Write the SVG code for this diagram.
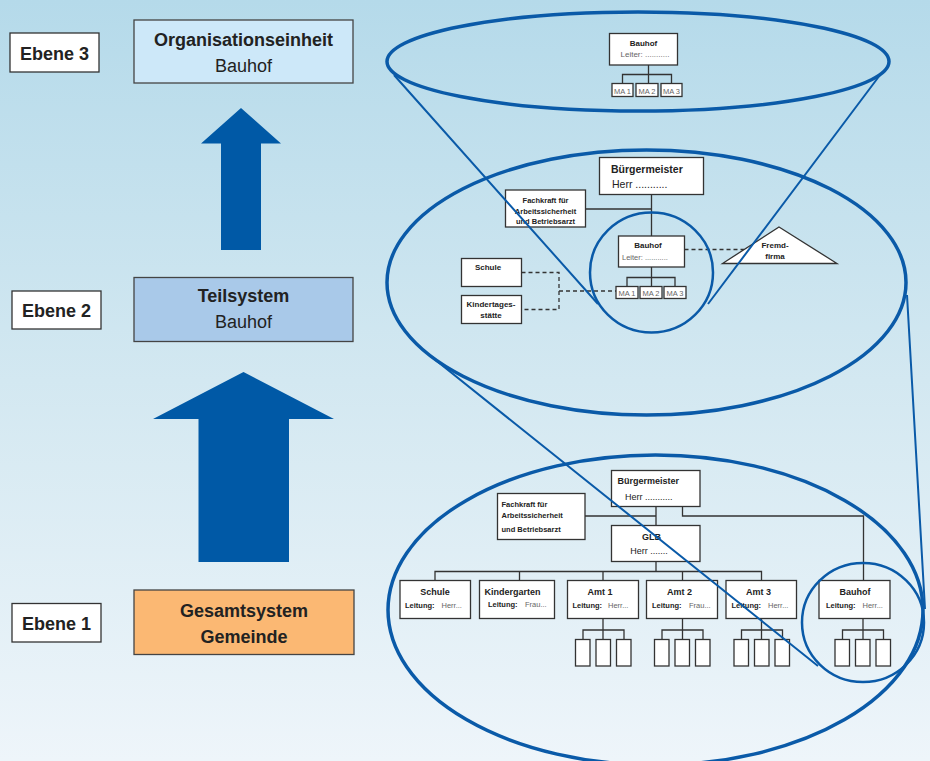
<svg xmlns="http://www.w3.org/2000/svg" width="930" height="761" viewBox="0 0 930 761">
<defs>
<linearGradient id="bg" x1="0" y1="0" x2="0" y2="1">
<stop offset="0" stop-color="#b5daea"/>
<stop offset="0.5" stop-color="#d3e8f1"/>
<stop offset="1" stop-color="#eef5fa"/>
</linearGradient>
</defs>
<style>
text{font-family:"Liberation Sans",Arial,sans-serif;fill:#222}
.b{font-weight:bold}
.c{text-anchor:middle}
.g{fill:#666}
.t18{font-size:18px}
.lbl{fill:#fff;stroke:#333;stroke-width:1.3}
.box{fill:#fff;stroke:#333;stroke-width:1.3}
.ln{fill:none;stroke:#333;stroke-width:1.3}
.dash{fill:none;stroke:#333;stroke-width:1.3;stroke-dasharray:4 3}
.arrow{fill:#0059a6}
.ring{fill:none;stroke:#0a5aa8}
.proj{fill:none;stroke:#0a5aa8;stroke-width:2}
.s7{font-size:7.5px}
.s8{font-size:8px}
.s9{font-size:9px}
.s10{font-size:10.5px}
</style>
<rect x="0" y="0" width="930" height="761" fill="url(#bg)"/>

<!-- left levels -->
<g id="ebene3"><rect class="lbl" x="10" y="33" width="89" height="39"/><text class="b c t18" x="54.5" y="59.5">Ebene 3</text></g>
<g id="ebene2"><rect class="lbl" x="12" y="291" width="89" height="38"/><text class="b c t18" x="56.5" y="316.5">Ebene 2</text></g>
<g id="ebene1"><rect class="lbl" x="12" y="603.5" width="89" height="38.5"/><text class="b c t18" x="56.5" y="629.5">Ebene 1</text></g>

<g id="organisationseinheit"><rect x="134" y="20" width="219" height="63" fill="#cde8f9" stroke="#444" stroke-width="1.3"/>
<text class="b c t18" x="243.5" y="45.5">Organisationseinheit</text><text class="c t18" x="243.5" y="72">Bauhof</text></g>
<g id="teilsystem"><rect x="134" y="277.5" width="219" height="64" fill="#a9c9e9" stroke="#444" stroke-width="1.3"/>
<text class="b c t18" x="243.5" y="302">Teilsystem</text><text class="c t18" x="243.5" y="328">Bauhof</text></g>
<g id="gesamtsystem"><rect x="134" y="590" width="220" height="64.5" fill="#fbb873" stroke="#444" stroke-width="1.3"/>
<text class="b c t18" x="244" y="616.5">Gesamtsystem</text><text class="b c t18" x="244" y="642.5">Gemeinde</text></g>

<g id="arrow-up-small"><polygon class="arrow" points="241,108 281,143.5 261,143.5 261,250 221,250 221,143.5 201,143.5"/></g>
<g id="arrow-up-big"><polygon class="arrow" points="243.5,372 334,419 289,419 289,562 198.5,562 198.5,419 153,419"/></g>

<!-- connectors -->
<g id="connectors">
<!-- top -->
<path class="ln" d="M648.5 65 V83.5 M622.5 83.5 V74.5 H671.5 V83.5"/>
<!-- middle -->
<path class="ln" d="M651.5 194.5 V236 M585.5 209 H651.5 M651.5 267 V286.5 M627 286.5 V277.5 H675 V286.5"/>
<path class="dash" d="M521.5 272.5 H559 V309.5 H521.5 M559 291 H616 M684.5 249.5 H744"/>
<!-- bottom -->
<path class="ln" d="M656 506.5 V525.5 M585 516 H656 M682.5 506.5 V516 H863.5 V580.5 M656 561.5 V571.5 M435 580.5 V571.5 H761.5 V580.5 M519.5 571.5 V580.5 M603 571.5 V580.5 M682.5 571.5 V580.5"/>
<path class="ln" d="M603 618.5 V630 M583 639.5 V630 H624 V639.5 M603 630 V639.5"/>
<path class="ln" d="M682.5 618.5 V639.5 M662 639.5 V630 H703 V639.5"/>
<path class="ln" d="M761.5 618.5 V639.5 M741.5 639.5 V630 H782.5 V639.5"/>
<path class="ln" d="M863 618.5 V639.5 M842.5 639.5 V630 H883.5 V639.5"/>
</g>

<!-- top ellipse content -->
<g id="top-bauhof"><rect class="box" x="609.5" y="33.5" width="68" height="31.5"/>
<text class="b c s8" x="643.5" y="46">Bauhof</text><text class="g s8" x="620.5" y="57">Leiter:  ...........</text></g>
<g id="top-ma1"><rect class="box" x="612" y="83.5" width="21" height="13"/><text class="g c s7" x="622.5" y="93.5">MA 1</text></g>
<g id="top-ma2"><rect class="box" x="636" y="83.5" width="22" height="13"/><text class="g c s7" x="647" y="93.5">MA 2</text></g>
<g id="top-ma3"><rect class="box" x="661" y="83.5" width="21" height="13"/><text class="g c s7" x="671.5" y="93.5">MA 3</text></g>

<!-- middle ellipse content -->
<g id="mid-buergermeister"><rect class="box" x="599.5" y="157.5" width="104" height="37"/>
<text class="b s10" x="611" y="173">Bürgermeister</text><text class="s10" x="612" y="188">Herr ...........</text></g>
<g id="mid-fachkraft"><rect class="box" x="505.5" y="190" width="80" height="37"/>
<text class="b c s7" x="545.5" y="202.5">Fachkraft für</text><text class="b c s7" x="545.5" y="213.5">Arbeitssicherheit</text><text class="b c s7" x="545.5" y="223.5">und Betriebsarzt</text></g>
<g id="mid-bauhof"><rect class="box" x="618.5" y="236" width="66" height="31"/>
<text class="b c s8" x="648" y="248">Bauhof</text><text class="g s7" x="622" y="260">Leiter:  ...........</text></g>
<g id="mid-ma1"><rect class="box" x="616" y="286.5" width="22" height="12"/><text class="g c s7" x="627" y="295.5">MA 1</text></g>
<g id="mid-ma2"><rect class="box" x="640" y="286.5" width="22" height="12"/><text class="g c s7" x="651" y="295.5">MA 2</text></g>
<g id="mid-ma3"><rect class="box" x="664" y="286.5" width="22" height="12"/><text class="g c s7" x="675" y="295.5">MA 3</text></g>
<g id="mid-schule"><rect class="box" x="461.5" y="258.5" width="60" height="28"/><text class="b c s8" x="488" y="270">Schule</text></g>
<g id="mid-kita"><rect class="box" x="461.5" y="295.5" width="60" height="28"/>
<text class="b c s8" x="491" y="307">Kindertages-</text><text class="b c s8" x="491" y="318">stätte</text></g>
<g id="mid-fremdfirma"><polygon class="box" points="779,227 837,263.5 722.5,263.5"/>
<text class="b c s8" x="775" y="248">Fremd-</text><text class="b c s8" x="775" y="259">firma</text></g>

<!-- bottom ellipse content -->
<g id="bot-buergermeister"><rect class="box" x="611.5" y="470.5" width="88.5" height="36"/>
<text class="b s9" x="617.5" y="484">Bürgermeister</text><text class="s9" x="625" y="499.5">Herr ...........</text></g>
<g id="bot-fachkraft"><rect class="box" x="497.5" y="493.5" width="87.5" height="46"/>
<text class="b s7" x="501.5" y="507">Fachkraft für</text><text class="b s7" x="501.5" y="517.5">Arbeitssicherheit</text><text class="b s7" x="501.5" y="532">und Betriebsarzt</text></g>
<g id="bot-glb"><rect class="box" x="611.5" y="525.5" width="88.5" height="36"/>
<text class="b c s9" x="651.5" y="540">GLB</text><text class="c s9" x="649" y="554">Herr .......</text></g>

<g id="bot-schule"><rect class="box" x="400" y="580.5" width="70.5" height="38"/>
<text class="b c s9" x="435" y="595">Schule</text><text class="b s7" x="405" y="607.5">Leitung:</text><text class="g s7" x="441.5" y="607.5">Herr...</text></g>
<g id="bot-kindergarten"><rect class="box" x="479.5" y="580.5" width="75" height="38"/>
<text class="b c s9" x="512.5" y="595">Kindergarten</text><text class="b s7" x="488" y="607">Leitung:</text><text class="g s7" x="525" y="607">Frau...</text></g>
<g id="bot-amt1"><rect class="box" x="567.5" y="580.5" width="71" height="38"/>
<text class="b c s9" x="600" y="595">Amt 1</text><text class="b s7" x="572.5" y="607.5">Leitung:</text><text class="g s7" x="608" y="607.5">Herr...</text></g>
<g id="bot-amt2"><rect class="box" x="646.5" y="580.5" width="71" height="38"/>
<text class="b c s9" x="679.5" y="595">Amt 2</text><text class="b s7" x="652" y="607.5">Leitung:</text><text class="g s7" x="689" y="607.5">Frau...</text></g>
<g id="bot-amt3"><rect class="box" x="726" y="580.5" width="70.5" height="38"/>
<text class="b c s9" x="758.5" y="595">Amt 3</text><text class="b s7" x="731.5" y="607.5">Leitung:</text><text class="g s7" x="768" y="607.5">Herr...</text></g>
<g id="bot-bauhof"><rect class="box" x="819" y="580.5" width="71" height="38"/>
<text class="b c s9" x="855" y="595">Bauhof</text><text class="b s7" x="826" y="607.5">Leitung:</text><text class="g s7" x="862.5" y="607.5">Herr...</text></g>

<g id="bot-amt1-staff"><rect class="box" x="575.5" y="639.5" width="14.5" height="26.5"/><rect class="box" x="596" y="639.5" width="14.5" height="26.5"/><rect class="box" x="616.5" y="639.5" width="14.5" height="26.5"/></g>
<g id="bot-amt2-staff"><rect class="box" x="654.5" y="639.5" width="14.5" height="26.5"/><rect class="box" x="675" y="639.5" width="14.5" height="26.5"/><rect class="box" x="695.5" y="639.5" width="14.5" height="26.5"/></g>
<g id="bot-amt3-staff"><rect class="box" x="734" y="639.5" width="14.5" height="26.5"/><rect class="box" x="754.5" y="639.5" width="14.5" height="26.5"/><rect class="box" x="775" y="639.5" width="14.5" height="26.5"/></g>
<g id="bot-bauhof-staff"><rect class="box" x="835" y="639.5" width="14.5" height="26.5"/><rect class="box" x="855.5" y="639.5" width="14.5" height="26.5"/><rect class="box" x="876" y="639.5" width="14.5" height="26.5"/></g>

<!-- zoom ellipses and projection lines -->
<g id="zoom-rings">
<ellipse class="ring" cx="638" cy="61.5" rx="251" ry="49.5" stroke-width="3.5"/>
<ellipse class="ring" cx="646.5" cy="282.5" rx="259.5" ry="132.5" stroke-width="3.5"/>
<ellipse class="ring" cx="651.5" cy="272.5" rx="61.5" ry="60" stroke-width="2.5"/>
<ellipse class="ring" cx="655.5" cy="610" rx="267.5" ry="155" stroke-width="3.5"/>
<ellipse class="ring" cx="863" cy="622.5" rx="61" ry="59.5" stroke-width="2.5"/>
<path class="proj" d="M394 75 L598 304 M880 75 L708 304 M428 354 L818 666 M907 295 L925 609"/>
</g>
</svg>
